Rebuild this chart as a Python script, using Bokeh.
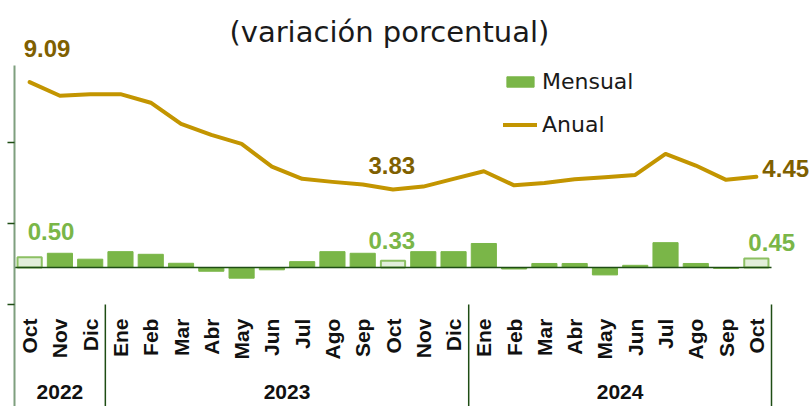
import math
from bokeh.plotting import figure
from bokeh.models import ColumnDataSource, Range1d, FixedTicker, Legend, LegendItem, Label
from bokeh.core.properties import value
from bokeh.embed import file_html
from bokeh.resources import INLINE

# ---------------- data ----------------
months = ["Oct", "Nov", "Dic",
          "Ene", "Feb", "Mar", "Abr", "May", "Jun", "Jul", "Ago", "Sep", "Oct", "Nov", "Dic",
          "Ene", "Feb", "Mar", "Abr", "May", "Jun", "Jul", "Ago", "Sep", "Oct"]
years = ["2022", "2023", "2024"]
year_counts = [3, 12, 10]
mensual = [0.50, 0.70, 0.41, 0.78, 0.65, 0.21, -0.18, -0.52, -0.11, 0.29, 0.78, 0.70,
           0.33, 0.78, 0.78, 1.18, -0.07, 0.20, 0.20, -0.36, 0.11, 1.22, 0.20, -0.04, 0.45]
anual = [9.09, 8.42, 8.50, 8.50, 8.08, 7.04, 6.50, 6.06, 4.95, 4.35, 4.20, 4.07,
         3.83, 3.97, 4.35, 4.72, 4.03, 4.14, 4.33, 4.43, 4.54, 5.57, 5.00, 4.30, 4.45]
highlight = [0, 12, 24]
title_text = "(variación porcentual)"

# ---------------- style / layout ----------------
GREEN = "#7ab648"
LIGHT = "#e2efda"
GOLD = "#c39500"
DARKGOLD = "#7f6000"
AXIS = "#7f9f7f"
DARK = "#1e4d14"

W, H = 812, 406
LEFT = 14
n = len(months)
x_end = -0.5 + (W - LEFT) / 30.28
y_lo, y_hi = -6.81, 13.09
ticks = [-1.81, 2.17, 6.11]

p = figure(width=W, height=H, output_backend="svg", toolbar_location=None,
           x_range=Range1d(-0.5, x_end), y_range=Range1d(y_lo, y_hi),
           x_axis_location=None, min_border=0, min_border_left=LEFT)
p.outline_line_color = None
p.grid.visible = False
p.background_fill_color = "white"
p.border_fill_color = "white"

ax = p.yaxis[0]
ax.ticker = FixedTicker(ticks=ticks)
ax.bounds = (y_lo, 9.90)
ax.major_label_overrides = {t: "" for t in ticks}
ax.major_label_standoff = 0
ax.major_tick_in = 0
ax.major_tick_out = 7
ax.major_tick_line_color = DARK
ax.major_tick_line_width = 1.5
ax.minor_tick_line_color = None
ax.axis_line_color = AXIS
ax.axis_line_width = 2

xs = list(range(n))
normal_idx = [i for i in xs if i not in highlight]
src_n = ColumnDataSource(dict(x=normal_idx, top=[mensual[i] for i in normal_idx]))
src_h = ColumnDataSource(dict(x=highlight, top=[mensual[i] for i in highlight]))

bars = p.vbar(x="x", top="top", bottom=0, width=0.83, source=src_n,
              fill_color=GREEN, line_color=GREEN, line_width=1)
p.vbar(x="x", top="top", bottom=0, width=0.80, source=src_h,
       fill_color=LIGHT, line_color="#8cc063", line_width=2)

# zero line
p.segment(x0=[-0.5], y0=[0], x1=[n - 0.5], y1=[0], line_color=DARK, line_width=1.5)

line = p.line(x=xs, y=anual, line_color=GOLD, line_width=4, line_join="round", line_cap="round")

# value labels
p.text(x=highlight, y=[mensual[i] for i in highlight],
       text=[f"{mensual[i]:.2f}" for i in highlight],
       x_offset=[-2, -24.5, -8], y_offset=[-26, -20, -16],
       text_align="left", text_baseline="middle",
       text_font=value("Liberation Sans"), text_font_style="bold",
       text_font_size="24px", text_color=GREEN)
p.text(x=highlight, y=[anual[i] for i in highlight],
       text=[f"{anual[i]:.2f}" for i in highlight],
       x_offset=[-6, -24.5, 6], y_offset=[-34, -24, -8],
       text_align="left", text_baseline="middle",
       text_font=value("Liberation Sans"), text_font_style="bold",
       text_font_size="24px", text_color=DARKGOLD)

# category labels
month_y = -2.5
p.text(x=xs, y=[month_y] * n, text=months, angle=math.pi / 2,
       text_align="right", text_baseline="middle",
       text_font=value("Liberation Sans"), text_font_style="bold",
       text_font_size="21px", text_color="#111111")

starts = [sum(year_counts[:k]) for k in range(len(year_counts))]
year_centers = [s + (c - 1) / 2 for s, c in zip(starts, year_counts)]
p.text(x=year_centers, y=[-6.1] * len(years), text=years,
       text_align="center", text_baseline="middle",
       text_font=value("Liberation Sans"), text_font_style="bold",
       text_font_size="21px", text_color="#111111")

seps = [s + c - 0.5 for s, c in zip(starts, year_counts)]
p.segment(x0=seps, y0=[-1.81] * len(seps), x1=seps, y1=[y_lo] * len(seps),
          line_color=DARK, line_width=1.5)

# title
p.add_layout(Label(x=11.88, y=11.57, text=title_text, text_align="center",
                   text_baseline="middle", text_font="DejaVu Sans",
                   text_font_size="29px", text_color="#1a1a1a"))

legend = Legend(items=[LegendItem(label="Mensual", renderers=[bars]),
                       LegendItem(label="Anual", renderers=[line])],
                location=(489, 269), orientation="vertical",
                glyph_width=34, glyph_height=13, label_height=20,
                label_standoff=5, spacing=18, padding=0, margin=0,
                label_text_font="DejaVu Sans", label_text_font_size="22px",
                label_text_color="#1a1a1a",
                border_line_color=None, background_fill_alpha=0)
p.add_layout(legend)

open("out.html", "w").write(file_html(p, INLINE))
